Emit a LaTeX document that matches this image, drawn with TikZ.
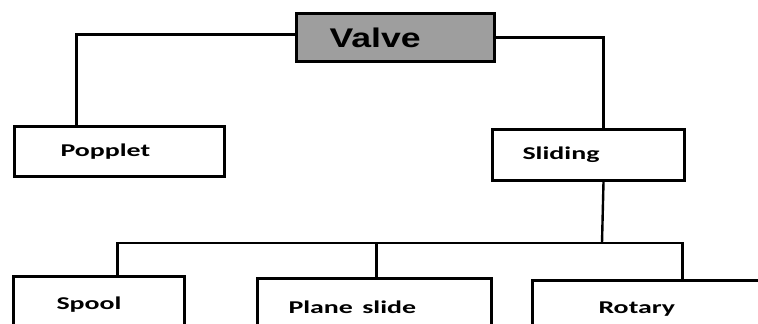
\documentclass[tikz,border=0pt]{standalone}
\usepackage{xcolor}
\usepackage{graphicx}
\usepackage{fontspec}
\setmainfont{Carlito}
\newfontfamily\valvefont{Liberation Sans}
\definecolor{valvegray}{RGB}{158, 158, 158}
\newcommand{\wideword}[1]{\scalebox{1.55}[1]{#1}}
\usepackage{tikz}

\begin{document}
\begin{tikzpicture}[
    x=1pt, y=-1pt,
    box/.style={
      draw=black,
      line width=3pt,
      anchor=north west,
      align=left,
      inner ysep=0pt,
      font=\fontsize{18}{21}\selectfont\bfseries
    },
    link/.style={draw=black, line width=2.4pt}
  ]
    \useasboundingbox (0,0) rectangle (758,324);
    \clip (0,0) rectangle (758,324);

    % top
    \node[
      box,
      fill=valvegray,
      inner xsep=33pt,
      text width=132pt,
      minimum height=48pt,
      font=\valvefont\fontsize{27}{30}\selectfont\bfseries
    ] (valve) at (295,12) {\scalebox{1.32}[1]{Valve}};

    % second row
    \node[box, inner xsep=46pt, text width=118pt, minimum height=50pt]
      (popplet) at (13,125) {\wideword{Popplet}};
    \node[box, inner xsep=30pt, text width=132pt, minimum height=51pt]
      (sliding) at (491,128) {\wideword{Sliding}};

    % third row
    \node[box, inner xsep=43pt, text width=85pt, minimum height=56pt]
      (spool) at (12,275) {\wideword{Spool}};
    \node[box, inner xsep=31pt, text width=172pt, minimum height=58pt]
      (planeslide) at (256,277) {\wideword{Plane slide}};
    \node[box, inner xsep=66pt, text width=168pt, minimum height=58pt]
      (rotary) at (531,279) {\wideword{Rotary}};

    \coordinate (bus) at (602,243);

    \draw[link] ([yshift=3pt]valve.west) -| ([xshift=-43pt]popplet.north);
    \draw[link] (valve.east) -| ([xshift=15pt]sliding.north);
    \draw[link] ([xshift=15pt]sliding.south) -- (bus);
    \draw[link] (bus) -| ([xshift=18.5pt]spool.north);
    \draw[link] (bus) -| ([xshift=2pt]planeslide.north);
    \draw[link] (bus) -| (rotary.north);
  \end{tikzpicture}
\end{document}
